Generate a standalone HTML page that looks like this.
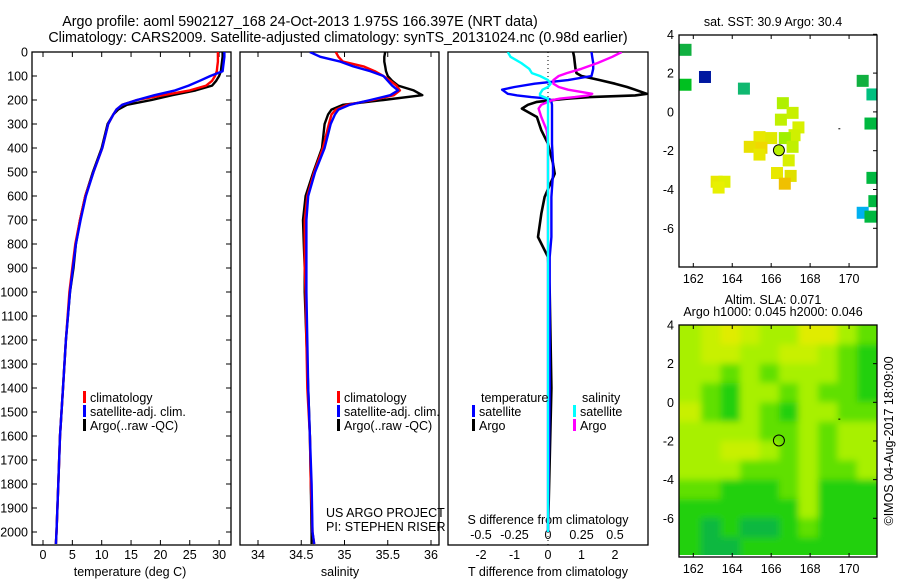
<!DOCTYPE html>
<html><head><meta charset="utf-8"><style>
body{margin:0;background:#fff;}
svg{display:block;font-family:"Liberation Sans",sans-serif;}
text{font-size:12.5px;fill:#000;}
</style></head><body>
<svg id="fig" width="900" height="580" viewBox="0 0 900 580" xmlns="http://www.w3.org/2000/svg">
<defs>
<clipPath id="c1"><rect x="32" y="52" width="199" height="493"/></clipPath>
<clipPath id="c2"><rect x="240" y="52" width="199" height="493"/></clipPath>
<clipPath id="c3"><rect x="448" y="52" width="200" height="493"/></clipPath>
<clipPath id="cm1"><rect x="679" y="35" width="198" height="232"/></clipPath>
<clipPath id="cm2"><rect x="679" y="325" width="198" height="230"/></clipPath>
<filter id="blur" filterUnits="userSpaceOnUse" x="660" y="300" width="240" height="280"><feGaussianBlur stdDeviation="3.5"/></filter>
</defs>
<text x="300" y="26" text-anchor="middle" style="font-size:14.3px">Argo profile: aoml 5902127_168 24-Oct-2013 1.975S 166.397E (NRT data)</text>
<text x="338" y="42" text-anchor="middle" style="font-size:14.3px">Climatology: CARS2009. Satellite-adjusted climatology: synTS_20131024.nc (0.98d earlier)</text>
<g id="g"></g>
</svg>
<script>
// ---- profile data ----
const depths = [0,20,40,60,80,100,120,140,160,180,200,220,240,260,300,400,500,600,700,800,900,1000,1200,1400,1600,1800,2000,2050];
const tempArgo = [30.6,30.6,30.5,30.4,30.3,30.0,29.5,28.8,26.0,22.0,18.5,14.3,12.8,12.0,11.0,10.0,8.5,7.2,6.3,5.6,5.2,4.6,3.9,3.4,2.9,2.6,2.3,2.2];
const tempClim = [29.8,29.8,29.8,29.7,29.6,29.3,28.8,27.8,25.0,20.5,16.0,13.5,12.5,12.0,11.1,10.1,8.6,7.2,6.3,5.5,5.0,4.5,3.9,3.4,2.9,2.6,2.3,2.2];
const tempSat = [30.9,30.9,30.8,30.7,30.6,28.5,26.7,24.8,22.5,19.0,16.0,13.5,12.5,12.0,11.1,10.1,8.6,7.3,6.4,5.6,5.1,4.6,3.9,3.4,2.9,2.6,2.3,2.2];
const salArgo = [35.47,35.46,35.46,35.47,35.48,35.5,35.55,35.62,35.8,35.9,35.45,34.98,34.85,34.81,34.77,34.74,34.64,34.55,34.52,34.53,34.54,34.54,34.56,34.58,34.6,34.61,34.62,34.62];
const salClim = [34.9,34.93,34.98,35.22,35.35,35.45,35.53,35.6,35.64,35.57,35.33,35.03,34.9,34.85,34.82,34.75,34.65,34.57,34.54,34.54,34.54,34.55,34.56,34.57,34.6,34.61,34.63,34.65];
const salSat = [34.6,34.72,34.95,35.1,35.3,35.45,35.5,35.55,35.62,35.53,35.3,35.06,34.93,34.89,34.84,34.77,34.66,34.58,34.56,34.56,34.56,34.56,34.57,34.58,34.6,34.62,34.63,34.65];
const diffDepths = [0,20,46,70,88,100,117,132,146,157,174,181,188,194,201,208,220,236,271,326,382,465,507,604,674,771,854,1000,1400,2000];
const tDiffArgo = [0.75,0.78,0.8,0.82,0.85,1.0,1.55,2.0,2.36,2.6,2.95,2.6,1.25,0.6,0.1,-0.33,-0.6,-0.78,-0.33,-0.2,0.0,0.15,0.2,-0.1,-0.2,-0.3,0.0,0.05,0.1,0.0];
const tDiffSat = [1.3,1.32,1.35,1.35,1.32,1.3,0.6,-0.4,-1.0,-1.37,-1.2,-0.92,-0.5,0.0,0.1,0.1,0.12,0.12,0.12,0.12,0.12,0.15,0.15,0.1,0.1,0.1,0.05,0.05,0.05,0.0];
const sDiffArgo = [0.55,0.48,0.37,0.25,0.14,0.08,0.04,0.04,0.08,0.15,0.33,0.3,0.2,0.09,0.03,0.0,-0.05,-0.07,-0.05,-0.01,0.0,0.0,0.0,0.0,0.0,0.0,0.0,0.0,0.0,0.0];
const sDiffSat = [-0.3,-0.28,-0.2,-0.14,-0.12,-0.06,0.0,0.02,0.0,-0.04,-0.06,-0.06,-0.03,0.0,0.0,0.0,0.0,0.0,0.0,0.0,0.0,0.0,0.0,0.0,0.0,0.0,0.0,0.0,0.0,0.0];
const depthTicks = [0,100,200,300,400,500,600,700,800,900,1000,1100,1200,1300,1400,1500,1600,1700,1800,1900,2000];
const tempTicks = [0,5,10,15,20,25,30];
const salTicks = [34,34.5,35,35.5,36];
const salTickLabels = ["34","34.5","35","35.5","36"];
const tDiffTicks = [-2,-1,0,1,2];
const sDiffTicks = [-0.5,-0.25,0,0.25,0.5];
const sDiffTickLabels = ["-0.5","-0.25","0","0.25","0.5"];
// ---- map data ----
const sstLon = [161.6,161.6,162.6,164.6,170.7,171.2,171.1,171.2,171.3,170.7,171.1,166.6,167.1,166.5,167.4,167.2,165.4,166.0,166.7,164.9,165.5,167.1,165.4,166.9,166.3,167.0,166.7,163.2,163.6,163.3];
const sstLat = [3.2,1.4,1.8,1.2,1.6,0.9,-0.6,-3.4,-4.6,-5.2,-5.4,0.45,-0.05,-0.4,-0.8,-1.2,-1.3,-1.35,-1.35,-1.8,-1.85,-1.8,-2.2,-2.5,-3.15,-3.3,-3.7,-3.6,-3.6,-3.9];
const sstColor = ["#10b040","#00c020","#0018a0","#10b870","#10b040","#00c080","#00b840","#00b840","#00b840","#00b0f0","#00b840","#b0f000","#c8f000","#c0f000","#d8f000","#d0f000","#e8e800","#e0e800","#a0f000","#e8e000","#f0d800","#c0f000","#e8e800","#d8f000","#e8e800","#e0e000","#f0c000","#e8e800","#e0f000","#e8f000"];
const slaLonEdges = [161.3,162.4,163.4,164.4,165.4,166.4,167.4,168.4,169.4,170.4,171.5];
const slaLatEdges = [4,3,2,1,0,-1,-2,-3,-4,-5,-6,-7,-8.1];
const slaLevels = [
 [3,4,5,4,3,3,5,5,3,2],
 [3,4,4,3,3,4,4,3,2,1],
 [3,3,2,3,2,3,3,3,2,1],
 [3,2,1,3,3,2,3,2,2,1],
 [4,2,1,3,2,1,3,3,2,2],
 [3,3,3,3,2,2,3,2,3,3],
 [3,3,4,4,3,2,3,2,3,3],
 [3,3,3,2,2,2,3,2,2,3],
 [2,2,1,1,1,2,3,1,1,1],
 [1,1,1,1,1,1,3,1,1,1],
 [1,0,1,0,0,1,2,1,1,1],
 [1,0,0,1,1,1,1,1,1,1]];
const slaPalette = ["#10b840","#20d010","#60e000","#a8f000","#c8f000","#e0ec00"];
const mapLonTicks = [162,164,166,168,170];
const mapLatTicks = [4,2,0,-2,-4,-6];

const NS="http://www.w3.org/2000/svg";
const G=document.getElementById('g');
function mk(tag,attrs,parent){const e=document.createElementNS(NS,tag);for(const k in attrs)e.setAttribute(k,attrs[k]);(parent||G).appendChild(e);return e;}
const yD = d => 52 + d*0.24;
const xT = t => 43 + t*5.87;
const xS = s => 258 + (s-34)*86.5;
const xTD = t => 548 + t*33.5;
const xSD = s => 548 + s*134;
const mx1 = lon => 693.3 + (lon-162)*19.47;
const my1 = lat => 34.3 + (4-lat)*19.4;
const my2 = lat => 325 + (4-lat)*19.33;

function txt(s,x,y,anchor,parent){const t=mk('text',{x:x,y:y,'text-anchor':anchor||'start'},parent);t.textContent=s;return t;}
function line(xs,ys,color,w,clip,name){
  let d='';for(let i=0;i<xs.length;i++)d+=(i?'L':'M')+xs[i].toFixed(1)+' '+ys[i].toFixed(1);
  const p=mk('path',{d:d,fill:'none',stroke:color,'stroke-width':w,'clip-path':'url(#'+clip+')','stroke-linejoin':'round'});
  
  
  return p;
}
function frame(x,y,w,h,name){const r=mk('rect',{x:x,y:y,width:w,height:h,fill:'none',stroke:'#000','stroke-width':1.3});
  
  }
frame(32,52,199,493,'temperature-panel-frame');
frame(240,52,199,493,'salinity-panel-frame');
frame(448,52,200,493,'difference-panel-frame');
depthTicks.forEach(d=>{
  const t=txt(String(d),28,yD(d)+4.5,'end');
  
  
  mk('line',{x1:32,x2:37,y1:yD(d),y2:yD(d),stroke:'#000'});
  mk('line',{x1:226,x2:231,y1:yD(d),y2:yD(d),stroke:'#000'});
});
tempTicks.forEach(v=>{
  const t=txt(String(v),xT(v),559,'middle');
  
  
  mk('line',{x1:xT(v),x2:xT(v),y1:52,y2:57,stroke:'#000'});
  mk('line',{x1:xT(v),x2:xT(v),y1:540,y2:545,stroke:'#000'});
});
salTicks.forEach((v,i)=>{
  const t=txt(salTickLabels[i],xS(v),559,'middle');
  
  
  mk('line',{x1:xS(v),x2:xS(v),y1:52,y2:57,stroke:'#000'});
  mk('line',{x1:xS(v),x2:xS(v),y1:540,y2:545,stroke:'#000'});
});
tDiffTicks.forEach(v=>{
  const t=txt(String(v),xTD(v),559,'middle');
  
  
});
sDiffTicks.forEach((v,i)=>{
  const t=txt(sDiffTickLabels[i],xSD(v),539,'middle');
  
  
});
[['temperature (deg C)',130,'temperature-axis-title'],['salinity',340,'salinity-axis-title'],['T difference from climatology',548,'t-difference-axis-title']].forEach(a=>{
  const t=txt(a[0],a[1],576,'middle');
  
  
});
{const t=txt('S difference from climatology',548,524,'middle');
 
 }
mk('line',{x1:548,x2:548,y1:52,y2:545,stroke:'#000','stroke-dasharray':'1 3'});
const Y=depths.map(yD);
line(tempArgo.map(xT),Y,'#000',2.4,'c1','temperature-argo-line');
line(tempClim.map(xT),Y,'#f00',2.4,'c1','temperature-climatology-line');
line(tempSat.map(xT),Y,'#00f',2.4,'c1','temperature-satellite-line');
line(salArgo.map(xS),Y,'#000',2.4,'c2','salinity-argo-line');
line(salClim.map(xS),Y,'#f00',2.4,'c2','salinity-climatology-line');
line(salSat.map(xS),Y,'#00f',2.4,'c2','salinity-satellite-line');
const YD=diffDepths.map(yD);
line(tDiffArgo.map(xTD),YD,'#000',2.6,'c3','t-difference-argo-line');
line(tDiffSat.map(xTD),YD,'#00f',2.4,'c3','t-difference-satellite-line');
line(sDiffArgo.map(xSD),YD,'#f0f',2.4,'c3','s-difference-argo-line');
line(sDiffSat.map(xSD),YD,'#0ff',2.4,'c3','s-difference-satellite-line');
function leg(x,y,color,label,name){
  mk('rect',{x:x-2,y:y-11,width:3,height:12,fill:color});
  const t=txt(label,x+5,y);
  
  
}
leg(85,402,'#f00','climatology','legend-climatology');
leg(85,416,'#00f','satellite-adj. clim.','legend-satellite-adj');
leg(85,430,'#000','Argo(..raw -QC)','legend-argo');
leg(339,402,'#f00','climatology','legend-climatology-2');
leg(339,416,'#00f','satellite-adj. clim.','legend-satellite-adj-2');
leg(339,430,'#000','Argo(..raw -QC)','legend-argo-2');
{const t=txt('temperature',481,402);}
{const t=txt('salinity',582,402);}
leg(474,416,'#00f','satellite','legend-t-satellite');
leg(474,430,'#000','Argo','legend-t-argo');
leg(575,416,'#0ff','satellite','legend-s-satellite');
leg(575,430,'#f0f','Argo','legend-s-argo');
{const t=txt('US ARGO PROJECT',326,517);}
{const t=txt('PI: STEPHEN RISER',326,531);}

{const t=txt('sat. SST: 30.9 Argo: 30.4',773,26,'middle');}
const m1=mk('g',{'clip-path':'url(#cm1)'});
sstLon.forEach((lon,i)=>{
  const r=mk('rect',{x:mx1(lon)-6,y:my1(sstLat[i])-6,width:12,height:12,fill:sstColor[i]},m1);
  
  
});
mk('circle',{cx:mx1(166.397),cy:my1(-1.975),r:5.5,fill:'#b8f000',stroke:'#000','stroke-width':1});
mk('line',{x1:mx1(169.45),x2:mx1(169.55),y1:my1(-0.87),y2:my1(-0.87),stroke:'#000'});
frame(679,35,198,232,'sst-map-frame');
{const t=txt('Altim. SLA: 0.071',773,304,'middle');}
{const t=txt('Argo h1000: 0.045 h2000: 0.046',773,316,'middle');}
const m2o=mk('g',{'clip-path':'url(#cm2)'});
const m2=mk('g',{filter:'url(#blur)'},m2o);
slaLevels.forEach((row,j)=>row.forEach((v,i)=>{
  const x0=mx1(slaLonEdges[i])-(i===0?12:0),x1=mx1(slaLonEdges[i+1])+(i===row.length-1?12:0.5),y0=my2(slaLatEdges[j])-(j===0?12:0),y1=my2(slaLatEdges[j+1])+(j===slaLevels.length-1?12:0.5);
  const r=mk('rect',{x:x0,y:y0,width:x1-x0,height:y1-y0,fill:slaPalette[v]},m2);
  
  
}));
mk('circle',{cx:mx1(166.397),cy:my2(-1.975),r:5.5,fill:'none',stroke:'#000','stroke-width':1});
mk('line',{x1:mx1(169.45),x2:mx1(169.55),y1:my2(-0.87),y2:my2(-0.87),stroke:'#000'});
frame(679,325,198,232,'sla-map-frame');
mapLonTicks.forEach(v=>{
  [[267,282,'sst'],[557,572,'sla']].forEach(a=>{
    const t=txt(String(v),mx1(v),a[1]+1,'middle');
    
    
    mk('line',{x1:mx1(v),x2:mx1(v),y1:a[0]-4,y2:a[0],stroke:'#000'});
  });
  mk('line',{x1:mx1(v),x2:mx1(v),y1:35,y2:39,stroke:'#000'});
  mk('line',{x1:mx1(v),x2:mx1(v),y1:325,y2:329,stroke:'#000'});
});
mapLatTicks.forEach(v=>{
  const t1=txt(String(v),674,my1(v)+4.5,'end');
  
  
  const t2=txt(String(v),674,my2(v)+4.5,'end');
  
  
  mk('line',{x1:873,x2:877,y1:my1(v),y2:my1(v),stroke:'#000'});
  mk('line',{x1:873,x2:877,y1:my2(v),y2:my2(v),stroke:'#000'});
});
{const t=mk('text',{x:0,y:0,transform:'translate(893,441) rotate(-90)','text-anchor':'middle'});
 t.textContent='©IMOS 04-Aug-2017 18:09:00';
 
 }
</script>
</body></html>
